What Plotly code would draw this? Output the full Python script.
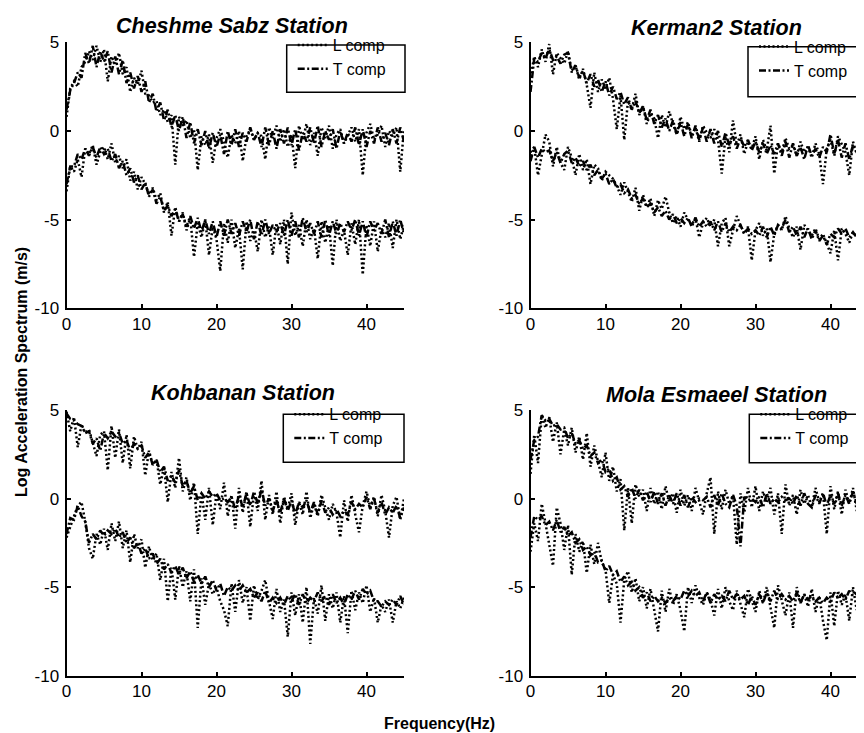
import plotly.graph_objects as go

# ---------------- data ----------------
freq = [i * 0.5 for i in range(91)]  # Hz sampling grid 0..45

station_names = ["Cheshme Sabz Station", "Kerman2 Station",
                 "Kohbanan Station", "Mola Esmaeel Station"]
x_ticks = [0, 10, 20, 30, 40]
x_tick_labels = ["0", "10", "20", "30", "40"]
y_ticks = [-10, -5, 0, 5]
y_tick_labels = ["-10", "-5", "0", "5"]

# Cheshme Sabz
cs_up_L = [0.8, 2.4, 2.8, 2.5, 3.6, 3.9, 4.5, 4.0, 4.8, 3.9,
           4.6, 2.8, 4.2, 3.7, 4.4, 3.2, 3.6, 2.2, 3.0, 2.6,
           3.4, 2.1, 2.0, 1.6, 1.7, 0.9, 1.2, 0.5, 0.9, -1.9,
           0.8, 0.3, 0.6, -0.4, 0.1, -2.2, -0.3, -0.8, -0.2, -1.8,
           -0.4, 0.1, -0.6, -1.5, -0.2, -0.7, 0.0, -1.7, -0.3, 0.1,
           -0.5, -0.1, -0.3, -1.6, 0.2, -0.4, 0.3, -0.6, 0.1, -0.9,
           -0.2, -2.1, 0.3, -0.5, 0.4, -0.8, -0.1, -1.4, 0.2, -0.4,
           0.3, -1.0, -0.2, 0.1, -0.7, -0.2, 0.2, -0.6, 0.1, -2.5,
           -0.1, 0.4, -0.5, -0.2, 0.3, -0.9, 0.0, -0.3, 0.2, -2.3,
           0.1]
cs_up_T = [1.2, 2.3, 2.7, 3.3, 3.0, 4.4, 3.8, 4.8, 3.6, 4.5,
           3.9, 4.5, 3.3, 4.2, 3.2, 4.0, 2.7, 3.3, 2.4, 3.1,
           2.2, 2.8, 1.6, 2.1, 1.1, 1.6, 0.6, 1.2, 0.2, 0.9,
           0.0, 0.8, -0.4, 0.5, -0.7, 0.1, -0.8, 0.0, -1.0, -0.1,
           -0.9, -0.2, -1.3, 0.0, -0.8, 0.1, -0.9, -0.1, -0.6, 0.2,
           -0.5, -0.1, -0.9, 0.2, -0.8, 0.0, -1.0, 0.1, -0.7, 0.2,
           -0.8, 0.1, -1.1, -0.1, -0.6, 0.2, -0.7, 0.3, -0.9, 0.0,
           -0.5, 0.1, -1.0, 0.0, -0.7, -0.1, -0.6, 0.2, -0.8, 0.1,
           -0.9, 0.0, -0.7, 0.2, -0.6, -0.1, -0.8, 0.1, -0.7, 0.2,
           -0.6]
cs_lo_L = [-3.4, -2.0, -2.3, -1.6, -2.6, -1.0, -1.3, -0.8, -1.9, -1.2,
           -0.9, -1.6, -0.7, -1.8, -1.4, -2.1, -1.6, -2.8, -2.3, -3.3,
           -2.6, -3.0, -3.6, -3.2, -3.9, -3.5, -4.6, -4.0, -5.9, -4.3,
           -5.1, -4.6, -5.6, -4.9, -7.1, -5.2, -6.0, -5.0, -7.0, -5.4,
           -6.1, -7.9, -5.2, -6.3, -5.0, -6.6, -5.5, -7.8, -5.1, -6.2,
           -5.6, -6.8, -5.0, -6.0, -5.4, -7.0, -5.2, -6.4, -5.0, -7.5,
           -4.6, -5.9, -5.3, -6.5, -5.0, -6.1, -5.5, -7.2, -5.1, -6.3,
           -5.3, -7.6, -5.0, -6.2, -5.6, -7.0, -5.2, -6.4, -5.0, -8.1,
           -5.3, -6.5, -5.1, -6.8, -5.5, -6.0, -5.2, -6.6, -5.0, -6.1,
           -5.3]
cs_lo_T = [-3.0, -2.0, -2.0, -1.3, -1.6, -1.0, -1.4, -0.9, -1.5, -0.9,
           -1.3, -1.0, -1.7, -1.3, -2.1, -1.7, -2.5, -2.1, -2.9, -2.5,
           -3.3, -2.9, -3.7, -3.3, -4.1, -3.7, -4.5, -4.2, -4.8, -4.4,
           -5.1, -4.7, -5.4, -4.8, -5.5, -4.9, -5.7, -5.0, -5.8, -5.1,
           -6.0, -5.1, -5.9, -5.0, -5.8, -5.2, -5.9, -5.1, -5.7, -5.0,
           -6.1, -5.1, -5.9, -5.0, -5.8, -5.3, -5.7, -5.2, -5.9, -5.0,
           -5.9, -5.1, -6.0, -4.9, -5.7, -5.2, -5.8, -5.1, -6.0, -5.0,
           -5.9, -5.1, -5.8, -5.2, -5.7, -5.1, -5.6, -5.0, -5.9, -5.1,
           -6.0, -5.1, -5.6, -5.2, -5.8, -5.0, -6.0, -5.1, -5.9, -5.0,
           -5.8]

# Kerman2
kr_up_L = [3.0, 4.2, 3.6, 4.6, 3.9, 4.9, 3.2, 4.4, 4.1, 3.8,
           4.5, 3.4, 3.7, 2.9, 3.5, 2.6, 1.3, 3.3, 2.2, 2.9,
           2.4, 3.0, 1.8, 0.1, 2.0, -0.5, 1.7, 1.2, 2.1, 0.9,
           1.4, 0.4, 1.0, 0.7, -0.4, 0.9, 0.2, 1.1, 0.4, -0.2,
           0.8, 0.1, 0.5, -0.3, 0.2, -0.6, 0.3, -0.1, -0.4, 0.1,
           -0.5, -2.4, -0.3, -1.2, 0.6, -0.8, -0.2, -1.3, -0.6, -1.0,
           -0.3, -1.6, -0.5, -1.1, 0.3, -2.4, -0.7, -1.2, -0.4, -1.0,
           -0.8, -1.4, -0.6, -1.2, -0.9, -1.5, -0.7, -1.3, -3.0, -1.0,
           -0.5, -1.4, -0.3, -0.8, -1.2, -2.5, -0.6, -1.3, -0.9, -1.5,
           -0.8]
kr_up_T = [2.2, 4.1, 3.9, 4.4, 4.1, 4.6, 4.0, 4.2, 3.8, 4.3,
           4.4, 3.3, 3.7, 3.0, 3.4, 2.7, 3.2, 2.5, 2.9, 2.2,
           2.8, 2.0, 2.5, 1.8, 2.2, 1.5, 1.9, 1.2, 1.7, 1.0,
           1.4, 0.6, 1.2, 0.4, 0.9, 0.2, 0.7, 0.0, 0.6, -0.2,
           0.5, -0.3, 0.4, -0.4, 0.3, -0.5, 0.2, -0.6, 0.1, -0.7,
           0.0, -0.9, -0.1, -0.8, -0.3, -1.0, -0.4, -0.9, -0.5, -1.1,
           -0.6, -1.2, -0.7, -1.3, -0.8, -1.3, -0.7, -1.4, -0.6, -1.5,
           -0.7, -1.4, -0.9, -1.6, -0.8, -1.4, -1.0, -1.5, -0.9, -1.2,
           -0.2, -1.3, -0.5, -1.5, -0.7, -1.6, -0.8, -1.2, -0.9, -1.4,
           -0.8]
kr_lo_L = [-1.2, -0.9, -2.5, -1.3, -0.2, -0.6, -2.0, -0.9, -1.8, -2.2,
           -0.9, -1.5, -2.5, -1.3, -2.2, -1.6, -3.0, -1.9, -2.1, -2.8,
           -2.3, -2.5, -2.7, -3.1, -3.6, -2.9, -3.4, -4.0, -3.2, -4.5,
           -3.6, -4.3, -3.8, -4.8, -3.9, -4.4, -3.7, -4.6, -5.2, -4.8,
           -5.4, -4.6, -5.0, -5.3, -4.9, -6.0, -5.2, -4.9, -5.4, -5.0,
           -6.5, -5.2, -4.9, -6.5, -5.6, -4.8, -5.3, -5.8, -5.4, -7.3,
           -5.6, -5.2, -5.9, -5.5, -7.4, -5.8, -5.3, -5.6, -4.8, -5.5,
           -6.0, -5.4, -6.7, -5.3, -5.6, -5.9, -5.5, -6.1, -5.8, -6.4,
           -6.9, -5.6, -7.3, -5.5, -5.8, -6.3, -5.7, -6.0, -5.6, -6.5,
           -5.9]
kr_lo_T = [-1.7, -0.9, -1.5, -1.0, -1.2, -1.1, -1.7, -1.2, -1.8, -1.3,
           -1.1, -1.8, -1.5, -2.0, -1.7, -2.2, -1.9, -2.5, -2.2, -2.7,
           -2.4, -3.0, -2.7, -3.2, -3.0, -3.5, -3.3, -3.8, -3.6, -4.1,
           -3.8, -4.3, -4.1, -4.6, -4.3, -4.8, -4.5, -5.0, -4.7, -5.2,
           -4.9, -5.2, -4.9, -5.4, -4.9, -5.4, -5.1, -5.4, -5.1, -5.6,
           -5.1, -5.7, -5.2, -5.7, -5.4, -5.6, -5.3, -5.8, -5.5, -5.8,
           -5.6, -5.9, -5.4, -6.0, -5.4, -5.9, -5.3, -5.5, -5.0, -5.7,
           -5.4, -5.9, -5.4, -6.0, -5.5, -6.1, -5.6, -6.2, -5.9, -6.4,
           -5.8, -6.0, -5.5, -5.8, -5.5, -6.0, -5.7, -6.0, -5.7, -6.2,
           -5.7]

# Kohbanan
kb_up_L = [4.9, 3.8, 4.6, 2.9, 4.2, 3.7, 3.9, 3.1, 2.4, 3.6,
           3.8, 1.6, 4.1, 2.3, 3.9, 2.0, 3.6, 1.7, 3.5, 2.8,
           3.2, 1.3, 2.7, 1.9, 2.2, 0.8, 1.8, -0.2, 1.5, 0.6,
           2.3, 0.4, 1.2, -0.1, 0.9, -2.0, 0.3, -1.2, 0.6, -1.5,
           0.3, -0.6, 0.9, -1.0, 0.2, -1.7, 0.6, -0.8, 0.4, -1.6,
           0.3, -0.7, 1.0, -1.2, 0.2, -0.9, 0.4, -1.4, 0.1, -0.6,
           0.3, -1.5, -0.2, -0.9, 0.4, -1.1, -0.3, -1.0, 0.2, -0.5,
           -1.2, -0.3, -0.8, -2.2, -0.1, -1.3, 0.2, -0.9, -1.9, -0.4,
           0.4, -0.5, 0.1, -1.0, 0.2, -0.7, -2.2, -0.4, 0.1, -1.2,
           0.0]
kb_up_T = [4.8, 4.5, 4.4, 4.2, 4.1, 3.7, 3.8, 3.1, 3.4, 2.7,
           3.7, 3.4, 3.8, 3.5, 3.7, 3.1, 3.3, 2.7, 3.1, 2.8,
           3.0, 2.3, 2.6, 1.9, 2.2, 1.5, 1.8, 1.0, 1.3, 0.9,
           1.6, 0.7, 1.0, 0.3, 0.7, -0.1, 0.3, 0.0, 0.4, 0.1,
           0.3, -0.1, 0.0, -0.2, 0.1, -0.6, 0.2, -0.5, 0.3, -0.4,
           0.4, -0.3, 0.5, -0.4, 0.0, -0.7, -0.1, -0.8, 0.0, -0.7,
           -0.1, -0.9, -0.2, -0.5, -0.1, -0.8, -0.2, -0.9, -0.1, -0.8,
           -0.5, -0.9, -0.6, -1.0, -0.7, -0.9, -0.2, -0.6, -0.3, -0.5,
           0.1, -0.6, 0.0, -0.8, -0.2, -0.9, -0.5, -0.8, -0.4, -1.1,
           -0.5]
kb_lo_L = [-2.2, -1.6, -0.9, -0.4, -0.2, -1.3, -2.8, -3.4, -2.0, -2.6,
           -1.7, -2.9, -1.4, -2.4, -1.3, -2.8, -1.8, -3.6, -2.0, -2.8,
           -2.3, -3.9, -2.7, -3.5, -3.1, -4.6, -3.4, -5.8, -3.9, -5.7,
           -3.8, -5.0, -4.1, -5.8, -4.0, -7.3, -4.5, -6.0, -4.8, -5.4,
           -5.0, -5.8, -6.3, -7.2, -4.8, -6.4, -4.6, -5.9, -5.0, -6.9,
           -4.9, -5.7, -5.2, -4.6, -5.8, -6.8, -5.1, -6.4, -5.7, -7.8,
           -5.3, -6.6, -5.4, -7.0, -5.0, -8.2, -5.6, -6.5, -4.9, -6.9,
           -5.4, -6.2, -5.3, -7.0, -5.5, -7.6, -5.2, -6.3, -5.3, -5.9,
           -4.9, -6.4, -5.6, -7.0, -6.0, -6.4, -5.7, -7.0, -5.8, -6.2,
           -5.6]
kb_lo_T = [-2.0, -1.1, -1.2, -0.4, -1.0, -1.3, -2.5, -2.0, -2.3, -1.8,
           -2.1, -1.8, -2.0, -1.7, -2.2, -1.9, -2.5, -2.2, -2.8, -2.5,
           -3.1, -2.8, -3.4, -3.1, -3.7, -3.4, -4.0, -3.7, -4.2, -3.8,
           -4.3, -3.9, -4.5, -4.1, -4.7, -4.3, -4.8, -4.4, -5.0, -4.6,
           -5.2, -4.8, -5.5, -5.0, -5.2, -4.9, -5.2, -4.9, -5.3, -5.1,
           -5.6, -5.3, -5.8, -5.2, -5.9, -5.6, -5.9, -5.6, -6.0, -5.5,
           -5.8, -5.4, -6.0, -5.4, -5.9, -5.6, -5.8, -5.3, -5.8, -5.5,
           -6.0, -5.4, -5.9, -5.6, -6.0, -5.4, -5.7, -5.2, -5.7, -5.1,
           -5.4, -5.2, -5.8, -5.8, -6.1, -5.8, -6.0, -5.7, -6.0, -5.5,
           -6.0]

# Mola Esmaeel
me_up_L = [1.4, 3.6, 2.0, 4.7, 4.0, 4.6, 3.2, 4.3, 2.5, 3.9,
           3.0, 4.0, 2.6, 3.5, 2.2, 3.7, 1.8, 3.0, 2.1, 1.2,
           2.6, 1.0, 1.8, 0.4, 1.1, -1.8, 0.6, -1.4, 0.8, 0.1,
           0.5, -0.7, 0.6, -0.3, 0.4, -0.6, 0.7, -0.2, 0.3, -0.8,
           0.5, -0.4, 0.2, -0.7, 0.6, -0.1, -0.9, 0.3, 1.2, -2.0,
           0.4, -0.6, 0.5, -0.3, 0.2, -2.6, 0.3, -0.8, 0.6, -0.5,
           0.7, -0.7, 0.4, -0.2, 0.6, -0.9, 0.3, -2.0, 0.8, -0.4,
           0.2, -0.9, 0.5, -0.3, 0.2, -0.5, 0.6, -0.2, 0.3, -2.0,
           0.7, -0.6, 0.4, -0.9, 0.5, -0.3, 0.6, -0.7, 0.3, -0.5,
           0.2]
me_up_T = [2.2, 3.3, 3.5, 4.7, 4.4, 4.5, 4.1, 4.2, 3.9, 4.0,
           3.4, 3.7, 3.1, 3.3, 2.8, 3.0, 2.4, 2.6, 2.0, 2.2,
           1.5, 1.7, 1.0, 1.2, 0.5, 0.7, 0.1, 0.6, 0.0, 0.5,
           -0.1, 0.4, -0.2, 0.4, -0.3, 0.3, -0.4, 0.2, -0.3, 0.3,
           -0.4, 0.2, -0.5, 0.1, -0.2, 0.0, -0.1, 0.1, -0.5, 0.2,
           -0.4, 0.3, -0.3, -0.5, 0.2, -0.4, -2.7, 0.1, -0.1, 0.0,
           -0.2, 0.1, -0.5, 0.3, -0.3, 0.0, -0.2, 0.1, -0.1, 0.0,
           -0.3, 0.2, -0.4, 0.3, -0.3, -0.5, 0.2, -0.3, 0.3, -0.4,
           0.2, -0.3, 0.3, -0.4, 0.2, -0.3, 0.4, -0.3, 0.2, -0.4,
           0.3]
me_lo_L = [-3.0, -1.4, -2.4, -0.3, -1.4, -2.6, -3.8, -0.5, -1.4, -2.9,
           -1.5, -4.3, -2.0, -3.0, -2.4, -4.2, -2.6, -3.7, -2.5, -3.6,
           -4.0, -5.9, -4.3, -4.8, -7.0, -4.6, -4.1, -5.3, -4.5, -5.8,
           -5.0, -6.2, -5.1, -6.3, -7.5, -5.2, -6.4, -5.1, -6.0, -5.4,
           -6.3, -7.5, -5.0, -5.9, -4.9, -5.6, -6.0, -5.3, -5.7, -6.6,
           -5.1, -6.2, -5.0, -5.8, -6.3, -5.2, -6.0, -6.7, -5.1, -5.7,
           -6.4, -5.2, -5.9, -5.0, -6.2, -7.3, -4.9, -5.8, -6.6, -5.3,
           -7.3, -5.0, -5.9, -5.4, -6.1, -5.1, -6.4, -5.5, -6.9, -8.0,
           -5.3, -7.2, -5.2, -6.0, -5.4, -6.9, -5.0, -6.3, -4.8, -6.1,
           -5.3]
me_lo_T = [-2.2, -1.0, -1.2, -1.0, -1.5, -1.3, -1.8, -1.2, -1.9, -1.6,
           -2.1, -1.9, -2.5, -2.3, -2.9, -2.7, -3.2, -3.0, -3.6, -3.5,
           -4.1, -3.8, -4.3, -4.1, -4.7, -4.4, -4.9, -4.7, -5.2, -5.0,
           -5.6, -5.3, -5.8, -5.5, -5.8, -5.6, -5.9, -5.6, -5.8, -5.5,
           -5.7, -5.2, -5.5, -5.2, -5.5, -5.3, -5.8, -5.3, -5.9, -5.4,
           -5.7, -5.5, -5.8, -5.2, -5.7, -5.4, -5.7, -5.5, -6.0, -5.5,
           -6.0, -5.4, -5.9, -5.3, -5.8, -5.2, -5.7, -5.4, -5.7, -5.5,
           -5.8, -5.3, -5.9, -5.4, -5.7, -5.5, -5.8, -5.6, -5.9, -5.6,
           -5.8, -5.3, -5.6, -5.4, -5.7, -5.2, -5.5, -5.3, -5.6, -5.4,
           -5.6]

panel_series = [
    (cs_up_L, cs_up_T, cs_lo_L, cs_lo_T),
    (kr_up_L, kr_up_T, kr_lo_L, kr_lo_T),
    (kb_up_L, kb_up_T, kb_lo_L, kb_lo_T),
    (me_up_L, me_up_T, me_lo_L, me_lo_T),
]

# ---------------- layout geometry (pixels in the 864x733 window) ----------------
BODY = 8                      # default page margin around the plot div
W, H = 864 - BODY, 733 - BODY
FONT = "Liberation Sans, Arial, Helvetica, sans-serif"
PX_PER_HZ = 7.5


def fx(px):
    return (px - BODY) / W


def fy(py):
    return 1 - (py - BODY) / H


# (x_left, x_right, y_top(5), y_bottom(-10)) in window pixels
panels = [
    (66.5, 404.0, 42.3, 308.3),
    (530.5, 864.0, 42.3, 308.3),
    (66.5, 404.0, 410.0, 675.7),
    (530.5, 864.0, 410.0, 675.7),
]
# legend box (left, top, right, bottom) in window pixels
boxes = [
    (286.7, 45.0, 405.0, 92.3),
    (748.0, 46.7, 900.0, 96.7),
    (283.3, 414.3, 404.0, 462.3),
    (749.3, 414.3, 900.0, 462.7),
]
title_pos = [(231.7, 26.5), (716.0, 27.5), (243.0, 393.0), (716.0, 395.0)]

L_style = dict(color="black", width=2.5, dash="2px,2.5px")
T_style = dict(color="black", width=2.5, dash="7px,2.5px,2px,2.5px")

fig = go.Figure()
legend_names = ["legend", "legend2", "legend3", "legend4"]

for k, (upL, upT, loL, loT) in enumerate(panel_series):
    ax = "" if k == 0 else str(k + 1)
    xa, ya = "x" + ax, "y" + ax
    lg = legend_names[k]
    fig.add_trace(go.Scatter(x=freq[:len(upL)], y=upL, mode="lines", name="L comp",
                             line=L_style, xaxis=xa, yaxis=ya, legend=lg,
                             showlegend=True))
    fig.add_trace(go.Scatter(x=freq[:len(upT)], y=upT, mode="lines", name="T comp",
                             line=T_style, xaxis=xa, yaxis=ya, legend=lg,
                             showlegend=True))
    fig.add_trace(go.Scatter(x=freq[:len(loL)], y=loL, mode="lines", name="L comp",
                             line=L_style, xaxis=xa, yaxis=ya, showlegend=False))
    fig.add_trace(go.Scatter(x=freq[:len(loT)], y=loT, mode="lines", name="T comp",
                             line=T_style, xaxis=xa, yaxis=ya, showlegend=False))

axis_common = dict(showline=True, linecolor="black", linewidth=2,
                   ticks="inside", ticklen=4, tickwidth=2, tickcolor="black",
                   showgrid=False, zeroline=False,
                   tickfont=dict(family=FONT, size=17, color="black"))

layout = dict(width=W, height=H, autosize=False,
              margin=dict(l=0, r=0, t=0, b=0, autoexpand=False),
              paper_bgcolor="white", plot_bgcolor="white",
              font=dict(family=FONT, color="black"))

shapes = []
annotations = []
for k, (xl, xr, yt, yb) in enumerate(panels):
    ax = "" if k == 0 else str(k + 1)
    xmax = (xr - xl) / PX_PER_HZ
    layout["xaxis" + ax] = dict(domain=[fx(xl), fx(xr)], range=[0, xmax],
                                tickvals=x_ticks, ticktext=x_tick_labels,
                                anchor="y" + ax, ticklabelstandoff=-1,
                                **axis_common)
    layout["yaxis" + ax] = dict(domain=[fy(yb), fy(yt)], range=[-10, 5],
                                tickvals=y_ticks, ticktext=y_tick_labels,
                                anchor="x" + ax, ticklabelstandoff=2,
                                **axis_common)
    bl, bt, br, bb = boxes[k]
    shapes.append(dict(type="rect", xref="paper", yref="paper",
                       x0=fx(bl), x1=fx(br), y0=fy(bb), y1=fy(bt),
                       line=dict(color="black", width=1.5),
                       fillcolor="white", layer="above"))
    layout[legend_names[k]] = dict(x=fx(bl + 6), y=fy(bt - 17),
                                   xanchor="left", yanchor="top",
                                   bgcolor="rgba(0,0,0,0)", borderwidth=0,
                                   font=dict(family=FONT, size=16, color="black"),
                                   tracegroupgap=0, itemwidth=30)
    tx, ty = title_pos[k]
    annotations.append(dict(text="<b><i>" + station_names[k] + "</i></b>",
                            xref="paper", yref="paper", x=fx(tx), y=fy(ty),
                            xanchor="center", yanchor="middle", showarrow=False,
                            font=dict(family=FONT, size=21.5, color="black")))

annotations.append(dict(text="<b>Log Acceleration Spectrum (m/s)</b>",
                        xref="paper", yref="paper", x=fx(22), y=fy(372),
                        xanchor="center", yanchor="middle", textangle=-90,
                        showarrow=False,
                        font=dict(family=FONT, size=16, color="black")))
annotations.append(dict(text="<b>Frequency(Hz)</b>",
                        xref="paper", yref="paper", x=fx(440), y=fy(723),
                        xanchor="center", yanchor="middle", showarrow=False,
                        font=dict(family=FONT, size=16, color="black")))

layout["shapes"] = shapes
layout["annotations"] = annotations
fig.update_layout(**layout)

fig.write_html("out.html")
